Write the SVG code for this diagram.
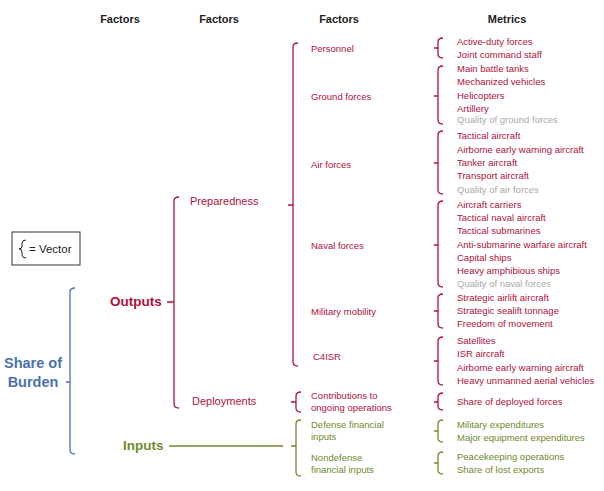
<svg xmlns="http://www.w3.org/2000/svg" width="604" height="491" viewBox="0 0 604 491">
<style>
text{font-family:"Liberation Sans",Arial,sans-serif}
.h{font-size:11px;font-weight:bold;fill:#222;text-anchor:middle}
.m{font-size:9.5px;fill:#b0123a}
.g{font-size:9.5px;fill:#aaa}
.n{font-size:9.5px;fill:#6e8a2a}
.r{fill:none;stroke:#b0123a;stroke-width:1.3}
.gr{fill:none;stroke:#6e8a2a;stroke-width:1.3}
.b{fill:none;stroke:#4a72b0;stroke-width:1.3}
</style>
<rect width="604" height="491" fill="#fff"/>
<g id="headers">
<text class="h" x="120" y="23">Factors</text>
<text class="h" x="219" y="23">Factors</text>
<text class="h" x="339" y="23">Factors</text>
<text class="h" x="507" y="23">Metrics</text>
</g>
<g id="legend">
<rect x="12" y="232" width="68" height="33" fill="#fff" stroke="#333" stroke-width="1"/>
<path d="M26,240 Q22,240 22,243 V246 Q22,249 19,249 Q22,249 22,252 V255 Q22,258 26,258" fill="none" stroke="#222" stroke-width="1"/>
<text x="29" y="253" style="font-size:11.5px;fill:#222">= Vector</text>
</g>
<g id="connectors">
<path class="b" d="M75,288 Q70,288 70,292 V450 Q70,454 75,454 M70,382 H66"/>
<path class="r" d="M167,302 H174 M179,197 Q174,197 174,201 V404 Q174,408 179,408"/>
<path class="gr" d="M169,446 H283 M301,420 Q296,420 296,424 V472 Q296,476 301,476 M296,446 H291"/>
<path class="r" d="M298,43 Q293,43 293,47 V362 Q293,366 298,366 M293,205 H288"/>
<path class="r" d="M301,392 Q296,392 296,396 V408 Q296,412 301,412 M296,402 H291"/>
<path class="r" d="M443,38 Q438,38 438,42 V54 Q438,58 443,58 M438,48 H434"/>
<path class="r" d="M443,66 Q438,66 438,70 V120 Q438,124 443,124 M438,96 H434"/>
<path class="r" d="M443,131 Q438,131 438,135 V190 Q438,194 443,194 M438,163 H434"/>
<path class="r" d="M443,201 Q438,201 438,205 V283 Q438,287 443,287 M438,245 H434"/>
<path class="r" d="M443,294 Q438,294 438,298 V324 Q438,328 443,328 M438,311 H434"/>
<path class="r" d="M443,337 Q438,337 438,341 V381 Q438,385 443,385 M438,361 H434"/>
<path class="r" d="M443,393 Q438,393 438,397 V406 Q438,410 443,410 M438,402 H434"/>
<path class="gr" d="M443,420 Q438,420 438,424 V438 Q438,442 443,442 M438,431 H434"/>
<path class="gr" d="M443,452 Q438,452 438,456 V470 Q438,474 443,474 M438,463 H434"/>
</g>
<g id="share"><text x="33" y="368" style="font-size:14.5px;font-weight:bold;fill:#4a72b0;text-anchor:middle">Share of</text><text x="33" y="387" style="font-size:14.5px;font-weight:bold;fill:#4a72b0;text-anchor:middle">Burden</text></g>
<g id="outputs"><text x="110" y="306" style="font-size:13.5px;font-weight:bold;fill:#b0123a">Outputs</text></g>
<g id="inputs"><text x="123" y="450" style="font-size:13.5px;font-weight:bold;fill:#6e8a2a">Inputs</text></g>
<g id="preparedness"><text x="190" y="205" style="font-size:11px;fill:#b0123a">Preparedness</text></g>
<g id="deployments"><text x="192" y="405" style="font-size:11px;fill:#b0123a">Deployments</text></g>
<g id="personnel"><text class="m" x="311" y="52">Personnel</text></g>
<g id="ground"><text class="m" x="311" y="100">Ground forces</text></g>
<g id="air"><text class="m" x="311" y="168">Air forces</text></g>
<g id="naval"><text class="m" x="311" y="249">Naval forces</text></g>
<g id="mobility"><text class="m" x="311" y="315">Military mobility</text></g>
<g id="c4isr"><text class="m" x="313" y="360">C4ISR</text></g>
<g id="contrib"><text class="m" x="311" y="399">Contributions to</text><text class="m" x="311" y="411">ongoing operations</text></g>
<g id="deffin"><text class="n" x="311" y="428">Defense financial</text><text class="n" x="311" y="440">inputs</text></g>
<g id="nondef"><text class="n" x="311" y="461">Nondefense</text><text class="n" x="311" y="473">financial inputs</text></g>
<g id="metrics">
<text class="m" x="457" y="45">Active-duty forces</text>
<text class="m" x="457" y="58">Joint command staff</text>
<text class="m" x="457" y="72">Main battle tanks</text>
<text class="m" x="457" y="85">Mechanized vehicles</text>
<text class="m" x="457" y="99">Helicopters</text>
<text class="m" x="457" y="112">Artillery</text>
<text class="g" x="457" y="123">Quality of ground forces</text>
<text class="m" x="457" y="139">Tactical aircraft</text>
<text class="m" x="457" y="153">Airborne early warning aircraft</text>
<text class="m" x="457" y="166">Tanker aircraft</text>
<text class="m" x="457" y="179">Transport aircraft</text>
<text class="g" x="457" y="193">Quality of air forces</text>
<text class="m" x="457" y="208">Aircraft carriers</text>
<text class="m" x="457" y="221">Tactical naval aircraft</text>
<text class="m" x="457" y="234">Tactical submarines</text>
<text class="m" x="457" y="248">Anti-submarine warfare aircraft</text>
<text class="m" x="457" y="261">Capital ships</text>
<text class="m" x="457" y="274">Heavy amphibious ships</text>
<text class="g" x="457" y="287">Quality of naval forces</text>
<text class="m" x="457" y="301">Strategic airlift aircraft</text>
<text class="m" x="457" y="314">Strategic sealift tonnage</text>
<text class="m" x="457" y="327">Freedom of movement</text>
<text class="m" x="457" y="344">Satellites</text>
<text class="m" x="457" y="357">ISR aircraft</text>
<text class="m" x="457" y="371">Airborne early warning aircraft</text>
<text class="m" x="457" y="384">Heavy unmanned aerial vehicles</text>
<text class="m" x="457" y="405">Share of deployed forces</text>
<text class="n" x="457" y="428">Military expenditures</text>
<text class="n" x="457" y="441">Major equipment expenditures</text>
<text class="n" x="457" y="460">Peacekeeping operations</text>
<text class="n" x="457" y="473">Share of lost exports</text>
</g>
</svg>
